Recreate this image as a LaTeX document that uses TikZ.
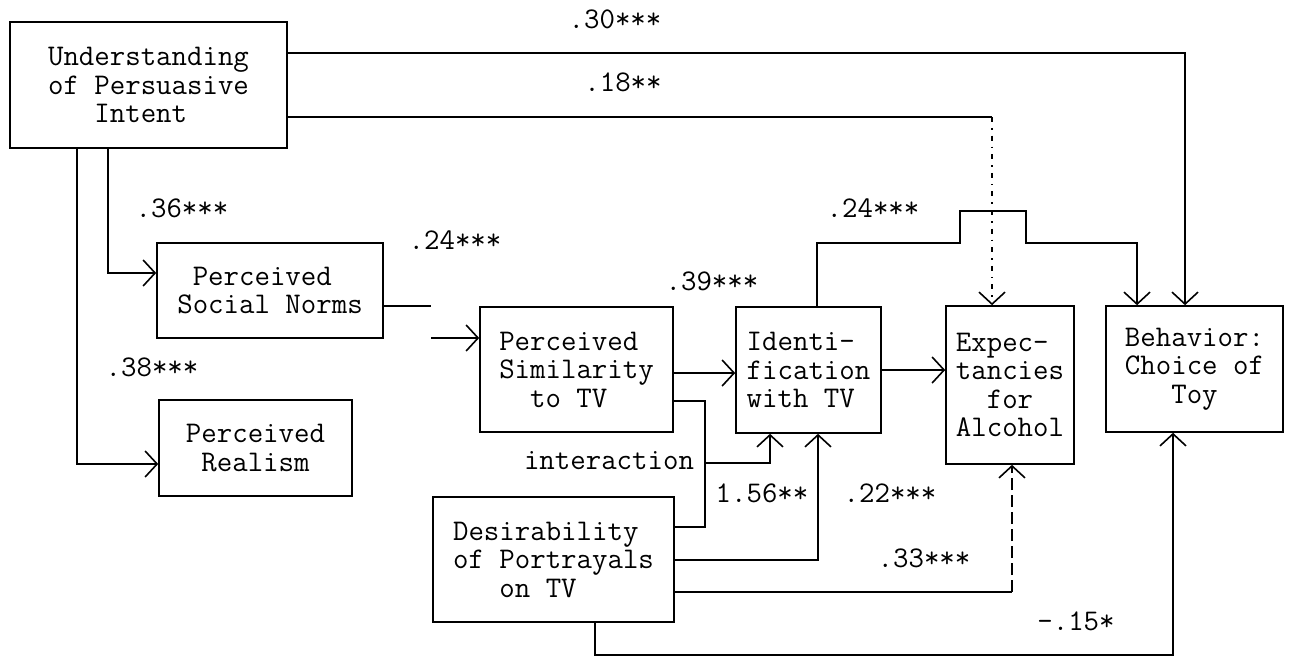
\documentclass[tikz,border=0pt]{standalone}
\usetikzlibrary{arrows.meta}
\newcommand\mylab{\fontsize{30}{28.5}\selectfont\ttfamily}
\tikzset{
  box/.style={draw, line width=1.6pt, align=left, inner sep=0pt, font=\mylab},
  conn/.style={line width=1.6pt},
  arr/.style={conn, -{Straight Barb[length=12pt,width=26pt]}},
  lbl/.style={font=\mylab, inner sep=0pt},
  dotline/.style={dash pattern=on 5pt off 6pt on 1.6pt off 6pt},
  dashline/.style={dash pattern=on 12pt off 5pt},
}
\begin{document}
\begin{tikzpicture}[x=1pt,y=-1pt]
\path[fill=white, use as bounding box] (0,0) rectangle (1292,658);
% boxes
\node[box, minimum width=277pt, minimum height=126pt] (und) at (148.5,85)
  {Understanding\\of Persuasive\\\hphantom{xxx}Intent};
\node[box, minimum width=226pt, minimum height=95pt] (norms) at (270,290.5)
  {\hphantom{x}Perceived\\Social Norms};
\node[box, minimum width=193pt, minimum height=96pt] (real) at (255.5,448)
  {Perceived\\\hphantom{x}Realism};
\node[box, minimum width=193pt, minimum height=125pt] (sim) at (576.5,369.5)
  {Perceived\\Similarity\\\hphantom{xx}to TV};
\node[box, minimum width=145pt, minimum height=126pt] (ident) at (808.5,370)
  {Identi-\\fication\\with TV};
\node[box, minimum width=128pt, minimum height=158pt] (expect) at (1010,385)
  {Expec-\\tancies\\\hphantom{xx}for\\Alcohol};
\node[box, minimum width=177pt, minimum height=126pt] (behav) at (1194.5,369)
  {Behavior:\\Choice of\\\hphantom{xxx}Toy};
\node[box, minimum width=241pt, minimum height=125pt] (des) at (553.5,559.5)
  {Desirability\\of Portrayals\\\hphantom{xxx}on TV};
% connectors
\draw[arr] (und.east |- 0,53) -| (behav.north -| 1185,0);
\coordinate (k18) at (992,117);
\draw[conn] (und.east |- k18) -- (k18);
\draw[arr, dotline] (k18) -- (expect.north -| k18);
\draw[arr] (und.south -| 108,0) |- (norms.west |- 0,273);
\draw[arr] (und.south -| 77,0) |- (real.west |- 0,464);
\coordinate (ns1) at (431,306);
\coordinate (ns2) at (431,338);
\draw[conn] (norms.east |- ns1) -- (ns1);
\draw[arr] (ns2) -- (sim.west |- ns2);
\draw[arr] (sim.east |- 0,373) -- (ident.west |- 0,373);
\draw[arr] (ident.east |- 0,370) -- (expect.west |- 0,370);
\draw[arr] (ident.north -| 817,0) |- (960,243) |- (1026,211) |- (1137,243) -- (behav.north -| 1137,0);
\coordinate (jn) at (705,463);
\draw[conn] (sim.east |- 0,401) -| (705,527) -- (des.east |- 0,527);
\draw[arr] (jn) -| (ident.south -| 770,0);
\draw[arr] (des.east |- 0,560) -| (ident.south -| 818,0);
\coordinate (k33) at (1012,592);
\draw[conn] (des.east |- k33) -- (k33);
\draw[arr, dashline] (k33) -- (expect.south -| k33);
\draw[arr] (des.south -| 595,0) |- (1173,655) -- (behav.south -| 1173,0);
% labels
\node[lbl] (l30) at (615,19) {.30***};
\node[lbl] (l18) at (623,82) {.18**};
\node[lbl] (l36) at (182,208) {.36***};
\node[lbl] (l38) at (152,367) {.38***};
\node[lbl] (l24a) at (455,240) {.24***};
\node[lbl] (l39) at (712,281) {.39***};
\node[lbl] (l24b) at (873,208) {.24***};
\node[lbl] (linter) at (609,461) {interaction};
\node[lbl] (l156) at (762,493) {1.56**};
\node[lbl] (l22) at (890,493) {.22***};
\node[lbl] (l33) at (924,558) {.33***};
\node[lbl] (l15) at (1076,621) {-.15*};
\end{tikzpicture}
\end{document}
